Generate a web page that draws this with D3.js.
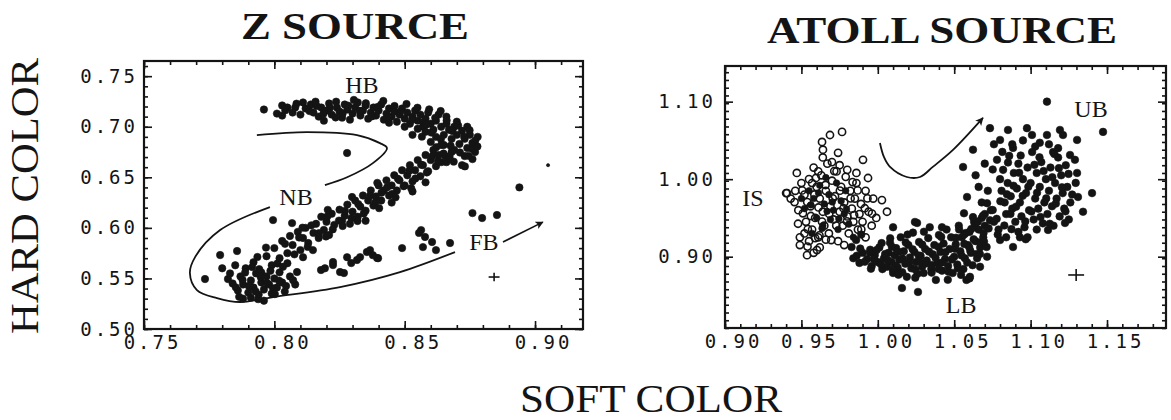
<!DOCTYPE html>
<html><head><meta charset="utf-8">
<script src="https://cdn.jsdelivr.net/npm/d3@7"></script>
<style>body{margin:0;background:#fff}</style>
</head><body>
<svg id="c" width="1171" height="420"></svg>
<script>
// ---------------- DATA (soft color, hard color) ----------------
// Z source
const zHB = [[0.796,0.717],[0.801,0.713],[0.805,0.719],[0.807,0.714],[0.803,0.721],[0.808,0.719],[0.810,0.712],[0.812,0.718],[0.814,0.722],[0.815,0.714],[0.817,0.710],[0.818,0.719],[0.820,0.716],[0.821,0.723],[0.822,0.712],[0.824,0.719],[0.825,0.715],[0.826,0.709],[0.827,0.722],[0.828,0.717],[0.830,0.713],[0.831,0.719],[0.832,0.724],[0.833,0.711],[0.834,0.716],[0.835,0.721],[0.836,0.708],[0.837,0.714],[0.838,0.719],[0.839,0.711],[0.840,0.716],[0.841,0.722],[0.842,0.707],[0.843,0.713],[0.844,0.718],[0.845,0.710],[0.846,0.715],[0.847,0.705],[0.848,0.712],[0.849,0.718],[0.850,0.708],[0.851,0.714],[0.852,0.703],[0.853,0.710],[0.854,0.716],[0.855,0.706],[0.856,0.712],[0.857,0.700],[0.858,0.708],[0.859,0.714],[0.860,0.703],[0.861,0.697],[0.862,0.706],[0.863,0.712],[0.864,0.700],[0.865,0.692],[0.866,0.703],[0.867,0.697],[0.868,0.688],[0.869,0.700],[0.870,0.692],[0.871,0.683],[0.872,0.696],[0.873,0.688],[0.874,0.679],[0.875,0.692],[0.876,0.684],[0.877,0.675],[0.865,0.682],[0.862,0.690],[0.858,0.695],[0.869,0.677],[0.873,0.671],[0.867,0.670],[0.860,0.685],[0.855,0.698],[0.803,0.711],[0.811,0.724],[0.819,0.706],[0.829,0.707],[0.844,0.704],[0.870,0.705],[0.866,0.710],[0.874,0.700],[0.878,0.690],[0.876,0.668],[0.872,0.662],[0.864,0.665],[0.850,0.700],[0.853,0.692]];
const zHB2 = [[0.8135,0.7155],[0.8162,0.7205],[0.8188,0.7128],[0.8213,0.7185],[0.8237,0.7248],[0.8262,0.7132],[0.8284,0.7208],[0.8305,0.7265],[0.8327,0.7158],[0.8351,0.7232],[0.8374,0.7102],[0.8396,0.7195],[0.8418,0.7255],[0.8439,0.7088],[0.8461,0.7205],[0.8483,0.7148],[0.8507,0.7225],[0.8528,0.7068],[0.8549,0.7188],[0.8572,0.7045],[0.8594,0.7172],[0.8617,0.7088],[0.8638,0.7155],[0.8661,0.7062],[0.8683,0.6958],[0.8705,0.7012],[0.8728,0.6902],[0.8749,0.6965],[0.8771,0.6865],[0.8758,0.6782],[0.8712,0.6745],[0.8676,0.6812],[0.8639,0.6878],[0.8602,0.6942],[0.8566,0.6902],[0.8621,0.6798],[0.8688,0.6655],[0.8745,0.6712],[0.8779,0.6805],[0.8731,0.6608],[0.8655,0.6712],[0.8584,0.7022],[0.8235,0.7092],[0.8158,0.7248],[0.8085,0.7228],[0.8042,0.7162]];
const zNB = [[0.792,0.566],[0.795,0.556],[0.797,0.572],[0.799,0.563],[0.800,0.580],[0.802,0.570],[0.803,0.587],[0.805,0.575],[0.806,0.592],[0.807,0.583],[0.809,0.596],[0.810,0.578],[0.811,0.590],[0.812,0.600],[0.813,0.585],[0.815,0.595],[0.816,0.604],[0.817,0.590],[0.818,0.611],[0.819,0.598],[0.820,0.606],[0.821,0.593],[0.822,0.614],[0.823,0.603],[0.825,0.618],[0.826,0.607],[0.827,0.612],[0.828,0.623],[0.829,0.604],[0.830,0.616],[0.831,0.627],[0.832,0.611],[0.833,0.621],[0.834,0.632],[0.835,0.617],[0.836,0.627],[0.837,0.637],[0.838,0.622],[0.839,0.631],[0.840,0.642],[0.841,0.627],[0.842,0.637],[0.843,0.647],[0.844,0.632],[0.845,0.642],[0.846,0.652],[0.847,0.637],[0.848,0.647],[0.849,0.657],[0.850,0.642],[0.851,0.652],[0.852,0.662],[0.853,0.646],[0.854,0.657],[0.855,0.667],[0.856,0.651],[0.857,0.662],[0.858,0.672],[0.859,0.656],[0.860,0.667],[0.861,0.677],[0.862,0.661],[0.863,0.672],[0.864,0.682],[0.866,0.665],[0.868,0.675],[0.835,0.607],[0.845,0.625],[0.853,0.636],[0.858,0.645]];
const zNB2 = [[0.7935,0.5712],[0.7968,0.5805],[0.8012,0.5648],[0.8041,0.5842],[0.8077,0.5738],[0.8095,0.5905],[0.8128,0.5812],[0.8142,0.6025],[0.8171,0.5948],[0.8203,0.6112],[0.8224,0.5985],[0.8248,0.6072],[0.8271,0.6168],[0.8296,0.6095],[0.8322,0.6235],[0.8343,0.6142],[0.8367,0.6318],[0.8388,0.6255],[0.8411,0.6348],[0.8433,0.6402],[0.8452,0.6335],[0.8474,0.6485],[0.8496,0.6412],[0.8518,0.6565],[0.8541,0.6488],[0.8563,0.6625],[0.8585,0.6548],[0.8607,0.6712],[0.8628,0.6658],[0.8649,0.6735],[0.8672,0.6702],[0.8198,0.5915],[0.8262,0.6018],[0.8319,0.6068],[0.8402,0.6195],[0.8465,0.6302],[0.8525,0.6392],[0.8395,0.6445],[0.8298,0.6305],[0.8205,0.6178],[0.8108,0.6002]];
const zLowerLeft = [[0.7734,0.5494],[0.7792,0.5731],[0.7822,0.5494],[0.7857,0.5771],[0.784,0.545],[0.786,0.538],[0.787,0.552],[0.788,0.544],[0.789,0.560],[0.790,0.536],[0.791,0.548],[0.792,0.541],[0.793,0.555],[0.794,0.534],[0.795,0.546],[0.796,0.539],[0.797,0.552],[0.798,0.544],[0.799,0.535],[0.800,0.550],[0.801,0.541],[0.802,0.556],[0.803,0.546],[0.804,0.537],[0.806,0.552],[0.808,0.544],[0.785,0.563],[0.788,0.530],[0.791,0.531],[0.7995,0.6077],[0.8068,0.6047],[0.780,0.560],[0.783,0.555],[0.796,0.528],[0.7852,0.5412],[0.7878,0.5485],[0.7902,0.5425],[0.7928,0.5372],[0.7948,0.5512],[0.7972,0.5455],[0.7995,0.5402],[0.8018,0.5478],[0.8045,0.5425],[0.8072,0.5482],[0.7888,0.5558],[0.7915,0.5612],[0.7942,0.5592],[0.7985,0.5575],[0.8033,0.5615],[0.7865,0.5318],[0.7938,0.5295],[0.8002,0.5345]];
const zFB = [[0.805,0.565],[0.8087,0.5563],[0.811,0.571],[0.8148,0.578],[0.8194,0.560],[0.8225,0.5662],[0.8252,0.5563],[0.8279,0.571],[0.8317,0.5682],[0.8367,0.578],[0.8398,0.570],[0.8179,0.5583],[0.8267,0.5553],[0.8329,0.5711],[0.8355,0.5761],[0.8394,0.5702],[0.849,0.580],[0.8563,0.5978],[0.857,0.581],[0.8578,0.591],[0.8605,0.586],[0.862,0.578],[0.8674,0.585],[0.876,0.6146],[0.8797,0.6097],[0.8854,0.6127],[0.8555,0.595],[0.8225,0.5632],[0.8295,0.5652],[0.8378,0.573]];
const zOutliers = [[0.8279,0.674],[0.894,0.640]];
const zFaint = [[0.905,0.662]];
// contour around the NB/FB branches, in two pieces
const zCurveUpper = [[0.7933,0.6917],[0.8125,0.6947],[0.8317,0.6917],[0.8405,0.6838],[0.8432,0.6789],[0.8378,0.664],[0.8279,0.650],[0.8194,0.6423]];
const zCurveLower = [[0.7983,0.6206],[0.7792,0.5978],[0.7696,0.5711],[0.7676,0.5553],[0.7703,0.5385],[0.778,0.5306],[0.7868,0.5267],[0.7995,0.5316],[0.8252,0.5415],[0.8482,0.5563],[0.8693,0.5761]];
const zArrow = [[0.8877,0.586],[0.903,0.6057]];
const zErrorBar = [0.8843, 0.5514, 0.0021, 0.0042]; // x, y, half-width, half-height
const zXTicks = [0.75, 0.80, 0.85, 0.90];
const zYTicks = [0.50, 0.55, 0.60, 0.65, 0.70, 0.75];
const zLabels = [["HB",0.8336,0.7332],["NB",0.8083,0.6225],["FB",0.8804,0.578]];

// Atoll source
const atollIS = [[0.947,1.008],[0.951,0.956],[0.949,0.925],[0.954,0.913],[0.950,0.995],[0.952,0.980],[0.953,0.945],[0.955,1.000],[0.956,0.965],[0.957,0.935],[0.958,1.015],[0.959,0.950],[0.960,0.990],[0.961,0.925],[0.962,0.975],[0.963,1.005],[0.964,0.958],[0.965,0.940],[0.966,0.985],[0.967,1.020],[0.968,0.930],[0.969,0.965],[0.970,0.998],[0.971,0.948],[0.972,0.978],[0.973,1.010],[0.974,0.920],[0.975,0.958],[0.976,0.990],[0.977,0.940],[0.978,0.970],[0.979,1.003],[0.980,0.952],[0.981,0.930],[0.982,0.985],[0.983,0.962],[0.984,0.945],[0.985,0.975],[0.986,0.995],[0.987,0.935],[0.988,0.955],[0.989,0.968],[0.990,0.945],[0.992,0.985],[0.994,0.958],[0.996,0.940],[0.997,0.975],[0.999,0.950],[0.955,0.920],[0.958,0.905],[0.952,0.930],[0.962,0.912],[0.966,0.922],[0.948,0.960],[0.946,0.985],[0.943,0.975],[0.940,0.982],[0.957,0.995],[0.961,1.010],[0.964,1.028],[0.970,1.022],[0.975,1.018],[0.980,1.012],[0.986,1.008],[0.992,0.925],[0.978,0.915],[0.9635,1.048],[0.9687,1.057],[0.9766,1.061],[0.9641,1.038],[0.974,1.034],[0.9903,1.025],[0.9936,1.0015],[0.9406,0.982],[1.0027,0.973],[1.006,0.958],[0.9537,0.902],[0.9602,0.9086],[0.949,0.915],[0.959,0.924]];
const atollIS2 = [[0.9505,0.9855],[0.9538,0.9705],[0.9562,0.9525],[0.9585,0.9802],[0.9612,0.9635],[0.9635,0.9452],[0.9658,0.9925],[0.9682,0.9552],[0.9705,0.9752],[0.9728,0.9402],[0.9752,0.9852],[0.9775,0.9625],[0.9798,0.9455],[0.9822,0.9752],[0.9845,0.9535],[0.9868,0.9855],[0.9892,0.9352],[0.9915,0.9625],[0.9542,0.9355],[0.9618,0.9275],[0.9695,0.9215],[0.9455,0.9705],[0.9478,0.9425],[0.9595,1.0015],[0.9715,1.0105],[0.9835,0.9962],[0.9932,0.9752],[0.9962,0.9555]];
const atollIScore = [[0.955,0.985],[0.958,0.975],[0.962,0.992],[0.965,0.968],[0.968,0.980],[0.971,0.960],[0.973,0.995],[0.976,0.972],[0.960,0.950],[0.964,0.940],[0.969,0.948],[0.974,0.935],[0.978,0.955],[0.952,0.962],[0.957,0.930],[0.981,0.942],[0.984,0.925],[0.950,0.975],[0.966,1.002],[0.979,0.985],[0.9612,0.9822],[0.9668,0.9585],[0.9702,0.9705],[0.9745,0.9488],[0.9562,0.9668],[0.9795,0.9615],[0.9635,0.9365]];
const atollLB = [[0.984,0.898],[0.988,0.892],[0.990,0.905],[0.993,0.897],[0.995,0.909],[0.996,0.888],[0.998,0.902],[1.000,0.893],[1.001,0.912],[1.003,0.884],[1.004,0.898],[1.006,0.887],[1.007,0.905],[1.008,0.918],[1.009,0.893],[1.010,0.879],[1.011,0.902],[1.012,0.911],[1.013,0.886],[1.014,0.896],[1.015,0.925],[1.016,0.880],[1.017,0.907],[1.018,0.891],[1.019,0.874],[1.020,0.915],[1.021,0.899],[1.022,0.885],[1.023,0.931],[1.024,0.906],[1.025,0.893],[1.026,0.878],[1.0257,0.9435],[1.027,0.919],[1.028,0.901],[1.029,0.887],[1.030,0.879],[1.031,0.910],[1.032,0.895],[1.033,0.924],[1.034,0.938],[1.035,0.884],[1.036,0.903],[1.037,0.915],[1.038,0.870],[1.039,0.892],[1.040,0.928],[1.041,0.906],[1.042,0.882],[1.043,0.917],[1.044,0.897],[1.045,0.935],[1.046,0.888],[1.047,0.910],[1.048,0.925],[1.049,0.879],[1.050,0.900],[1.051,0.916],[1.052,0.890],[1.053,0.940],[1.054,0.907],[1.055,0.925],[1.056,0.884],[1.057,0.898],[1.058,0.870],[1.059,0.915],[1.060,0.932],[1.061,0.905],[1.062,0.889],[1.063,0.945],[1.064,0.920],[1.065,0.898],[1.066,0.935],[1.067,0.912],[1.068,0.950],[1.069,0.925],[1.070,0.940],[1.0158,0.8596],[1.0263,0.8545],[1.060,0.872],[1.010,0.938],[1.0243,0.9448],[1.042,0.938],[1.0564,0.956]];
const atollLB2 = [[0.9862,0.9012],[0.9915,0.8935],[0.9948,0.9052],[0.9975,0.8968],[0.9992,0.9085],[1.0021,0.8902],[1.0048,0.9035],[1.0065,0.8955],[1.0092,0.9128],[1.0118,0.8882],[1.0135,0.9062],[1.0162,0.8975],[1.0183,0.9182],[1.0205,0.8925],[1.0228,0.9095],[1.0246,0.8835],[1.0268,0.9015],[1.0291,0.9155],[1.0314,0.8912],[1.0335,0.9065],[1.0352,0.8795],[1.0378,0.8985],[1.0398,0.9125],[1.0421,0.8925],[1.0442,0.9058],[1.0463,0.8805],[1.0485,0.8965],[1.0506,0.9102],[1.0524,0.8852],[1.0548,0.9015],[1.0566,0.9165],[1.0585,0.8925],[1.0605,0.9078],[1.0627,0.9225],[1.0648,0.9035],[1.0671,0.9182],[1.0692,0.9305],[1.0712,0.9125],[1.0081,0.9238],[1.0195,0.9285],[1.0302,0.9322],[1.0415,0.9255],[1.0532,0.9352],[1.0635,0.9412],[1.0135,0.8768],[1.0245,0.8728],[1.0352,0.8892],[1.0458,0.8702],[1.0545,0.8765],[1.0098,0.8835],[0.9955,0.8845],[0.9885,0.9105],[1.0025,0.9175],[1.0272,0.8938],[1.0398,0.8842],[1.0512,0.9245],[1.0575,0.9305],[0.9828,0.9125],[0.9858,0.9215],[0.9892,0.9285]];
const atollUB = [[1.0734,1.0658],[1.0852,1.0635],[1.080,1.0506],[1.0885,1.0403],[1.0976,1.0658],[1.1009,1.057],[1.106,1.047],[1.1107,1.057],[1.1192,1.0635],[1.1212,1.057],[1.1304,1.0506],[1.1107,1.100],[1.1474,1.061],[1.1147,1.035],[1.1258,1.0312],[1.129,1.025],[1.1304,1.008],[1.1402,0.982],[1.1343,0.958],[1.131,0.977],[1.1225,0.9435],[1.1114,0.9345],[1.0623,1.038],[1.0558,1.0157],[1.0584,0.977],[1.0715,0.969],[1.0623,0.951],[1.0734,0.947],[1.080,0.9215],[1.0885,0.9125],[1.0715,0.900],[1.0669,0.887],[1.0603,0.874],[1.093,0.925],[1.078,1.025],[1.080,1.000],[1.081,0.985],[1.082,1.012],[1.083,0.970],[1.084,0.955],[1.085,0.995],[1.086,1.030],[1.087,0.978],[1.088,0.962],[1.089,1.008],[1.090,0.945],[1.091,0.988],[1.092,1.020],[1.093,0.970],[1.094,0.952],[1.095,1.000],[1.096,0.938],[1.097,0.982],[1.098,1.015],[1.099,0.960],[1.100,0.995],[1.101,1.035],[1.102,0.948],[1.103,0.975],[1.104,1.008],[1.105,0.962],[1.106,0.990],[1.107,1.022],[1.108,0.943],[1.109,0.970],[1.110,1.000],[1.111,0.955],[1.112,0.985],[1.113,1.015],[1.114,0.965],[1.115,0.940],[1.116,0.995],[1.117,0.975],[1.118,1.028],[1.119,0.952],[1.120,1.005],[1.121,0.982],[1.122,0.962],[1.123,1.018],[1.124,0.990],[1.125,0.948],[1.126,0.970],[1.076,0.945],[1.074,0.960],[1.072,0.985],[1.070,0.955],[1.068,0.970],[1.079,0.935],[1.084,0.925],[1.092,0.932],[1.098,0.925],[1.104,0.935],[1.066,0.990],[1.064,1.005],[1.088,1.045],[1.095,1.050],[1.103,1.042],[1.112,1.045],[1.118,1.040],[1.070,1.020],[1.076,1.045]];
const atollUB2 = [[1.0565,0.9285],[1.0612,0.9358],[1.0655,0.9452],[1.0688,0.9528],[1.0725,0.9365],[1.0752,0.9602],[1.0778,0.9488],[1.0802,0.9715],[1.0828,0.9402],[1.0845,0.9805],[1.0868,0.9552],[1.0888,0.9915],[1.0905,0.9645],[1.0925,1.0082],[1.0948,0.9785],[1.0965,0.9455],[1.0985,0.9902],[1.1005,0.9582],[1.1025,1.0185],[1.1042,0.9825],[1.1065,0.9512],[1.1085,1.0105],[1.1102,0.9752],[1.1125,0.9425],[1.1142,1.0025],[1.1165,0.9685],[1.1185,1.0142],[1.1205,0.9895],[1.1228,0.9585],[1.1248,1.0068],[1.1272,0.9802],[1.1295,0.9952],[1.0815,1.0352],[1.0935,1.0305],[1.1058,1.0282],[1.1155,1.0325],[1.0752,1.0125],[1.0852,1.0215],[1.0695,0.9195],[1.0785,0.9285],[1.0875,0.9355],[1.0968,0.9225],[1.0598,0.9125],[1.0668,0.9035]];
const atollArrow = [[1.0014,1.0467],[1.004,1.0287],[1.008,1.0158],[1.019,1.0028],[1.0276,1.0028],[1.036,1.0158],[1.0492,1.0377],[1.0688,1.079]];
const atollErrorBar = [1.1298, 0.8764, 0.0052, 0.0077];
const atollXTicks = [0.90, 0.95, 1.00, 1.05, 1.10, 1.15];
const atollYTicks = [0.90, 1.00, 1.10];
const atollLabels = [["IS",0.9183,0.9654],["UB",1.1395,1.0803],["LB",1.0545,0.8274]];

// ---------------- DRAWING ----------------
const svg = d3.select("#c");
svg.append("rect").attr("width",1171).attr("height",420).attr("fill","#fff");
const ink = "#141414";
const defs = svg.append("defs");
defs.append("marker").attr("id","ah").attr("viewBox","0 0 10 10").attr("refX",9).attr("refY",5)
  .attr("markerWidth",11).attr("markerHeight",8).attr("markerUnits","userSpaceOnUse").attr("orient","auto")
  .append("path").attr("d","M0,0 L10,5 L0,10 L2.5,5 Z").attr("fill",ink);

const fmt = d3.format(".2f");
function panel(o){
  const g = svg.append("g");
  const x = d3.scaleLinear().domain(o.xDomain).range(o.xRange);
  const y = d3.scaleLinear().domain(o.yDomain).range(o.yRange);
  const [x0,x1] = o.xRange, [y0,y1] = o.yRange;
  const minorX = d3.range(o.xDomain[0], o.xDomain[1]+1e-9, o.xMinor);
  const minorY = d3.range(o.yDomain[0], o.yDomain[1]+1e-9, o.yMinor);
  function styleAxis(sel){ sel.select(".domain").remove(); sel.selectAll("line").attr("stroke",ink).attr("stroke-width",1.6); }
  g.append("g").attr("transform",`translate(0,${y0})`).call(d3.axisBottom(x).tickValues(minorX).tickSize(-4).tickFormat("")).call(styleAxis);
  g.append("g").attr("transform",`translate(0,${y1})`).call(d3.axisTop(x).tickValues(minorX).tickSize(-4).tickFormat("")).call(styleAxis);
  g.append("g").attr("transform",`translate(${x0},0)`).call(d3.axisLeft(y).tickValues(minorY).tickSize(-4).tickFormat("")).call(styleAxis);
  g.append("g").attr("transform",`translate(${x1},0)`).call(d3.axisRight(y).tickValues(minorY).tickSize(-4).tickFormat("")).call(styleAxis);
  const ax = g.append("g").attr("transform",`translate(0,${y0})`).call(d3.axisBottom(x).tickValues(o.xTicks).tickSize(-8).tickPadding(7).tickFormat(fmt)).call(styleAxis);
  g.append("g").attr("transform",`translate(0,${y1})`).call(d3.axisTop(x).tickValues(o.xTicks).tickSize(-8).tickFormat("")).call(styleAxis);
  const ay = g.append("g").attr("transform",`translate(${x0},0)`).call(d3.axisLeft(y).tickValues(o.yTicks).tickSize(-8).tickPadding(o.yPad).tickFormat(fmt)).call(styleAxis);
  g.append("g").attr("transform",`translate(${x1},0)`).call(d3.axisRight(y).tickValues(o.yTicks).tickSize(-8).tickFormat("")).call(styleAxis);
  [ax,ay].forEach(a=>a.selectAll("text").attr("font-family","'DejaVu Sans Mono', monospace").attr("font-size",19)
      .attr("letter-spacing","3px").attr("fill",ink));
  ax.selectAll("text").attr("dx",8);
  g.append("rect").attr("x",x0).attr("y",y1).attr("width",x1-x0).attr("height",y0-y1)
    .attr("fill","none").attr("stroke",ink).attr("stroke-width",2.2);
  return {g,x,y};
}
function dots(p, data, r, filled){
  p.g.append("g").selectAll("circle").data(data).join("circle")
    .attr("cx",d=>p.x(d[0])).attr("cy",d=>p.y(d[1])).attr("r",r)
    .attr("fill",filled?ink:"none").attr("stroke",ink).attr("stroke-width",filled?0.6:1.6);
}
function cross(p, e){
  const [cx,cy,hw,hh]=e;
  p.g.append("line").attr("x1",p.x(cx-hw)).attr("x2",p.x(cx+hw)).attr("y1",p.y(cy)).attr("y2",p.y(cy)).attr("stroke",ink).attr("stroke-width",1.6);
  p.g.append("line").attr("x1",p.x(cx)).attr("x2",p.x(cx)).attr("y1",p.y(cy-hh)).attr("y2",p.y(cy+hh)).attr("stroke",ink).attr("stroke-width",1.6);
}
function curve(p, data, arrow, k){
  const line = d3.line().x(d=>p.x(d[0])).y(d=>p.y(d[1])).curve(d3.curveCatmullRom.alpha(0.5));
  const path = p.g.append("path").attr("d",line(data)).attr("fill","none").attr("stroke",ink).attr("stroke-width",k||1.8);
  if(arrow) path.attr("marker-end","url(#ah)");
}
function labels(p, data){
  p.g.append("g").selectAll("text").data(data).join("text")
    .attr("x",d=>p.x(d[1])).attr("y",d=>p.y(d[2])).attr("text-anchor","middle")
    .attr("font-family","'Liberation Serif','DejaVu Serif',serif").attr("font-size",24).attr("fill",ink).text(d=>d[0]);
}

// Z source panel
const pz = panel({xDomain:[0.75,0.9184], xRange:[144,583], yDomain:[0.50,0.765], yRange:[329,61],
  xTicks:zXTicks, yTicks:zYTicks, xMinor:0.01, yMinor:0.01, yPad:6});
curve(pz, zCurveUpper); curve(pz, zCurveLower); curve(pz, zArrow, true, 1.6);
[zHB, zHB2, zNB, zNB2, zLowerLeft, zFB, zOutliers].forEach(s=>dots(pz, s, 3.7, true));
dots(pz, zFaint, 1.6, true);
cross(pz, zErrorBar);
labels(pz, zLabels);

// Atoll source panel
const pa = panel({xDomain:[0.90,1.1886], xRange:[725,1166], yDomain:[0.808,1.146], yRange:[328,66],
  xTicks:atollXTicks, yTicks:atollYTicks, xMinor:0.01, yMinor:0.01, yPad:9});
curve(pa, atollArrow, true, 1.8);
dots(pa, atollIS, 3.6, false); dots(pa, atollIS2, 3.6, false);
dots(pa, atollIScore, 3.3, true);
[atollLB, atollLB2, atollUB, atollUB2].forEach(s=>dots(pa, s, 3.8, true));
cross(pa, atollErrorBar);
labels(pa, atollLabels);

// titles
const serif = "'Liberation Serif','DejaVu Serif',serif";
svg.append("text").attr("x",355).attr("y",39).attr("text-anchor","middle").attr("font-family",serif)
  .attr("font-weight","bold").attr("font-size",37).attr("textLength",228).attr("lengthAdjust","spacingAndGlyphs").attr("fill",ink).text("Z SOURCE");
svg.append("text").attr("x",942).attr("y",43).attr("text-anchor","middle").attr("font-family",serif)
  .attr("font-weight","bold").attr("font-size",37).attr("textLength",350).attr("lengthAdjust","spacingAndGlyphs").attr("fill",ink).text("ATOLL SOURCE");
svg.append("text").attr("transform","translate(38,196) rotate(-90)").attr("text-anchor","middle").attr("font-family",serif)
  .attr("font-size",39).attr("textLength",276).attr("lengthAdjust","spacingAndGlyphs").attr("fill",ink).text("HARD COLOR");
svg.append("text").attr("x",651).attr("y",412).attr("text-anchor","middle").attr("font-family",serif)
  .attr("font-size",39).attr("textLength",262).attr("lengthAdjust","spacingAndGlyphs").attr("fill",ink).text("SOFT COLOR");
</script>
</body></html>
